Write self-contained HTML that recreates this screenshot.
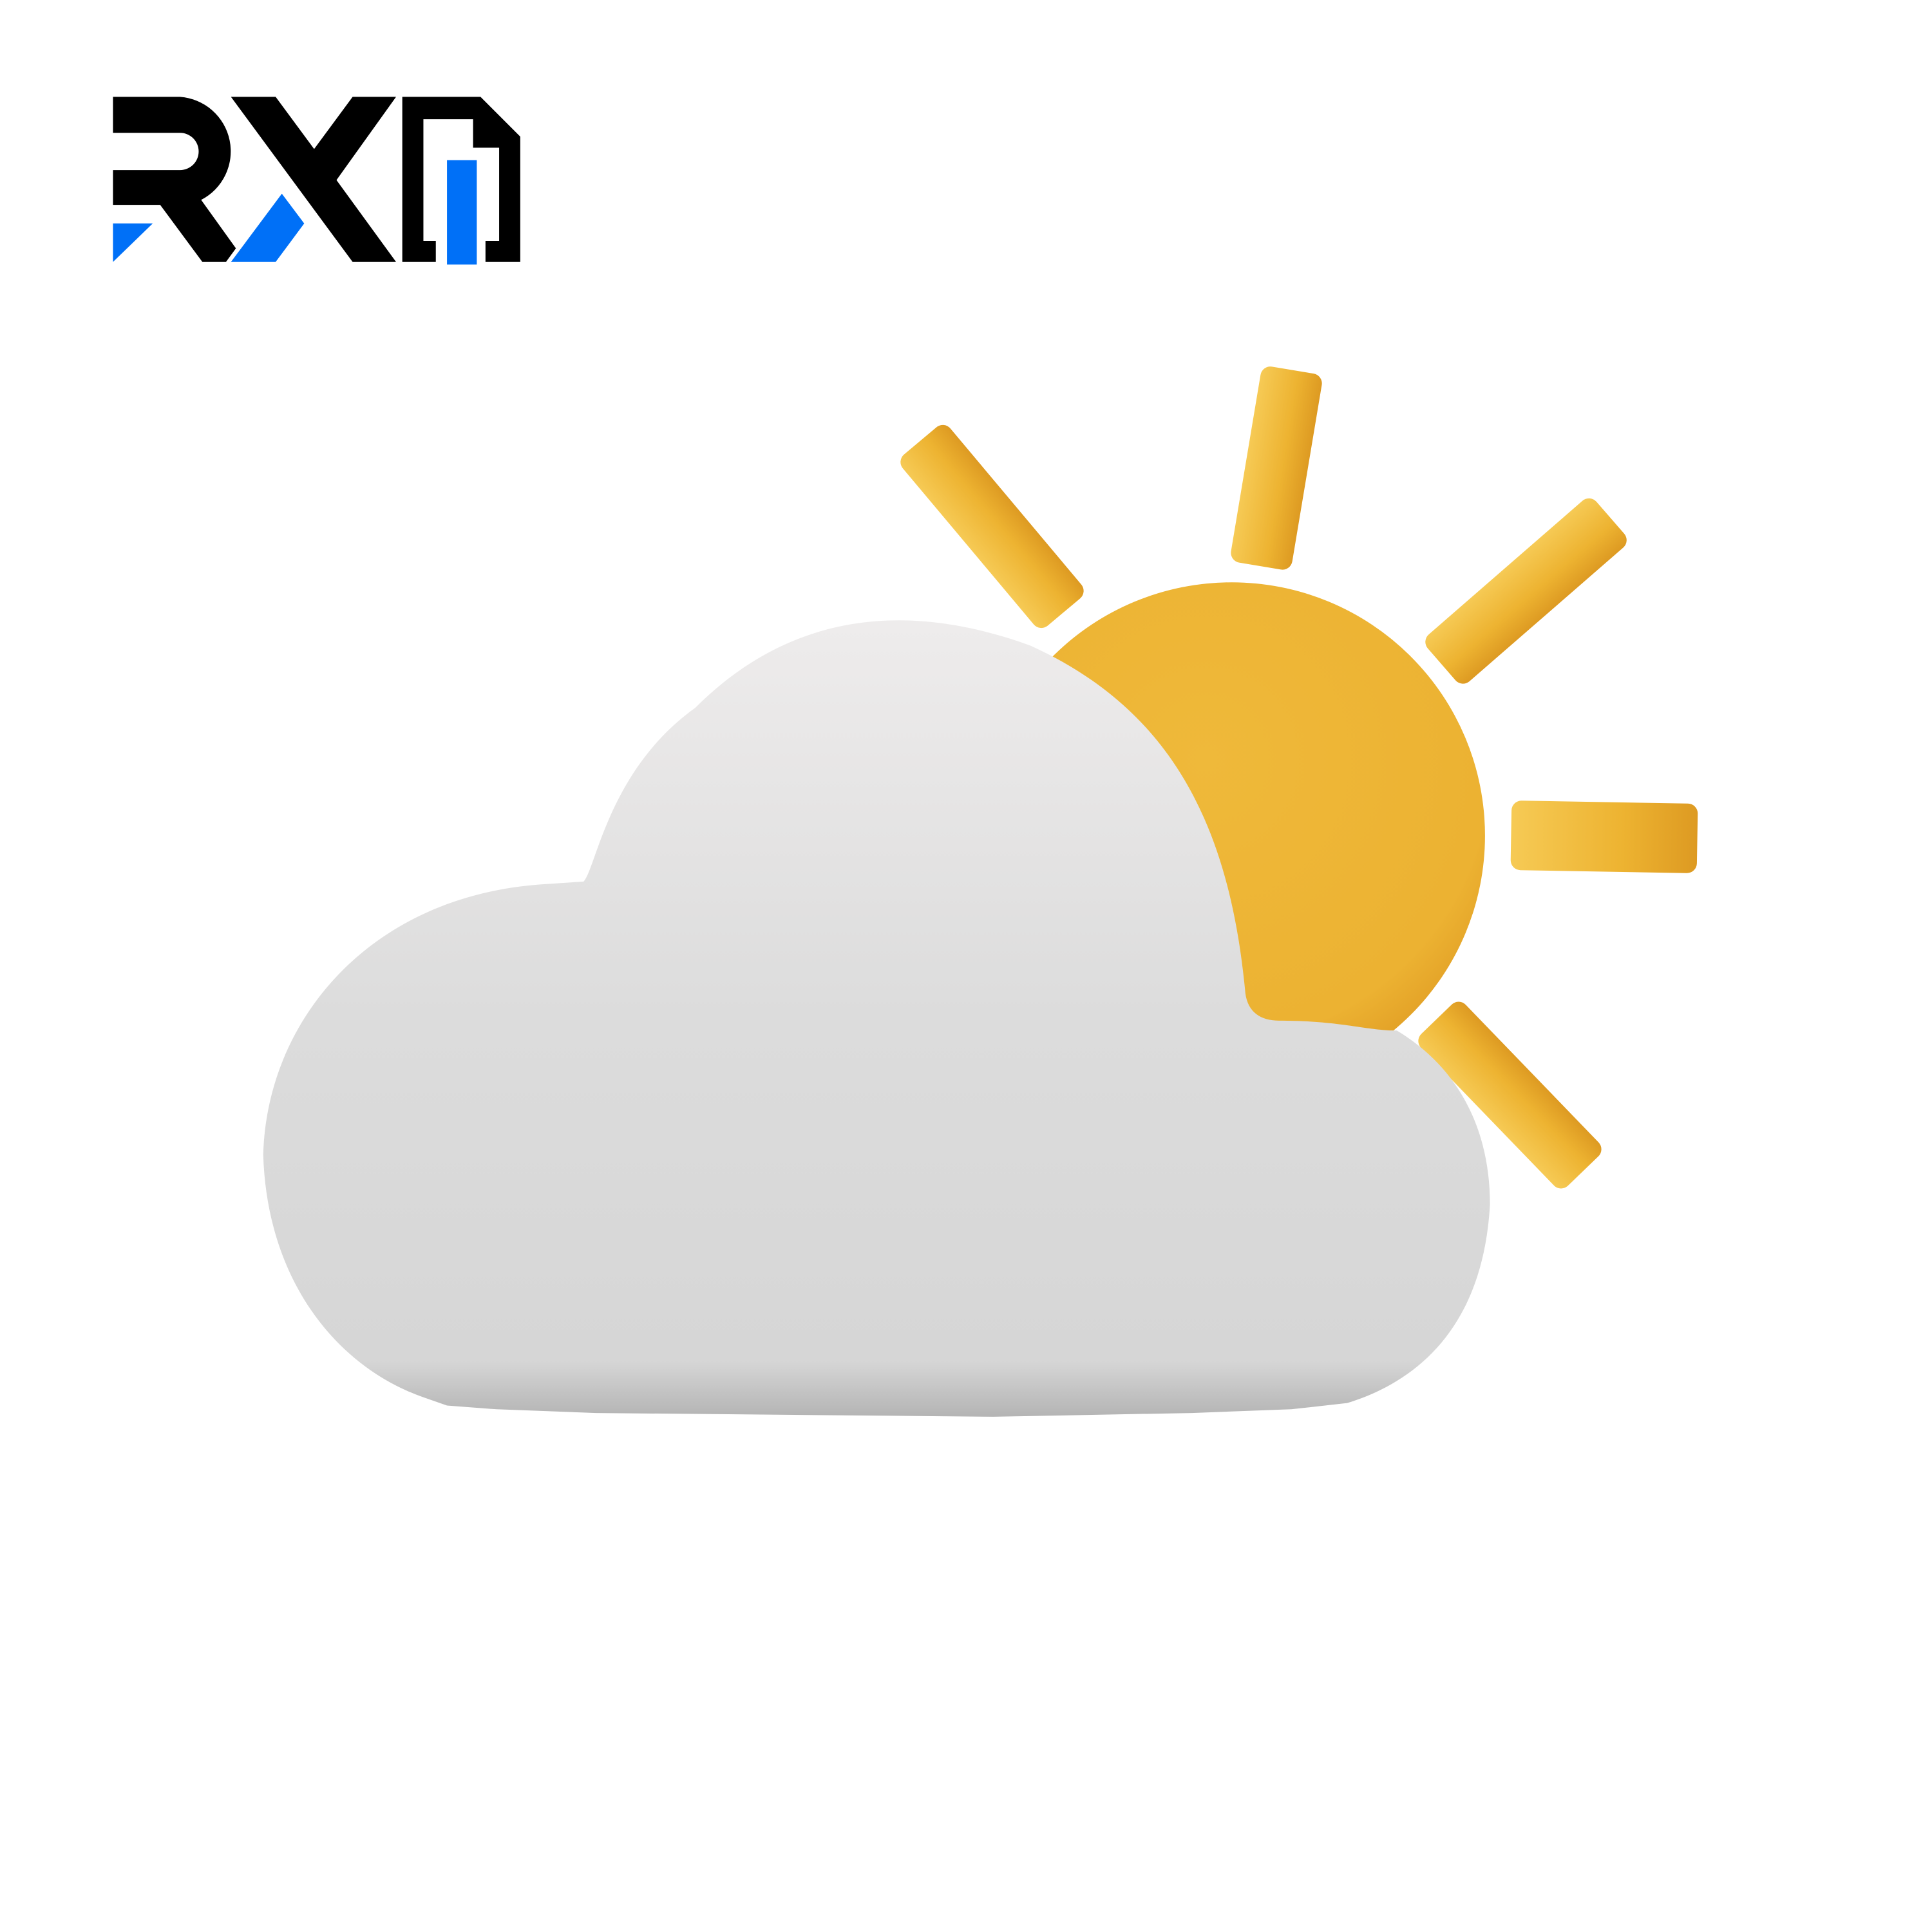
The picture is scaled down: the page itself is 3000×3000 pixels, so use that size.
<!DOCTYPE html>
<html><head><meta charset="utf-8"><style>html,body{margin:0;padding:0;background:#fff}svg{display:block}</style></head>
<body>
<svg width="3000" height="3000" viewBox="0 0 1556 1556" xmlns="http://www.w3.org/2000/svg">
<defs>
<radialGradient id="sun" cx="0.45" cy="0.35" r="0.7">
<stop offset="0" stop-color="#efb93a"/><stop offset="0.8" stop-color="#ecb232"/><stop offset="1" stop-color="#df9a22"/></radialGradient>
<linearGradient id="ray" x1="0" y1="0" x2="1" y2="0">
<stop offset="0" stop-color="#f6ca55"/><stop offset="0.6" stop-color="#edb331"/><stop offset="1" stop-color="#dd9a22"/></linearGradient>
<linearGradient id="cloud" x1="0" y1="0" x2="0" y2="1">
<stop offset="0" stop-color="#eeecec"/><stop offset="0.5" stop-color="#dcdcdc"/><stop offset="0.93" stop-color="#d6d6d6"/><stop offset="1" stop-color="#b4b4b4"/></linearGradient>
</defs>
<rect width="1556" height="1556" fill="#fff"/>
<g>
<path d="M91 78 H145 A44 44 0 0 1 162 161 L190 200 L182 211 H163 L129 165 H91 V137 H145 A15 15 0 0 0 145 107 H91 Z" fill="#000"/>
<path d="M91 180 H123 L91 211 Z" fill="#0070f7"/>
<path d="M186 78 H222 L253 120 L284 78 H319 L271 145 L319 211 H284 Z" fill="#000"/>
<path d="M227 156 L245 180 L222 211 H186 Z" fill="#0070f7"/>
<path d="M324 78 H387 L419 110 V211 H391 V194 H402 V119 H381 V96 H341 V194 H351 V211 H324 Z" fill="#000"/>
<rect x="360" y="129" width="24" height="84" fill="#0070f7"/>
</g>
<g fill="url(#ray)">
<rect x="-25" y="-80" width="50" height="160" rx="8" transform="translate(1028 377) rotate(9.5)"/>
<rect x="-25" y="-90" width="50" height="180" rx="8" transform="translate(799 424) rotate(-40)"/>
<rect x="-25" y="-90" width="50" height="180" rx="8" transform="translate(1229 476) rotate(49)"/>
<rect x="-75" y="-28" width="150" height="56" rx="8" transform="translate(1292 674) rotate(1)"/>
<rect x="-25" y="-85" width="50" height="170" rx="8" transform="translate(1216 882) rotate(-44)"/>
</g>
<circle cx="992" cy="673" r="204" fill="url(#sun)"/>
<path d="M340 1125 C270 1100 215 1030 212 930 C215 820 300 720 440 712 L470 710 C480 700 490 620 560 570 C630 500 720 480 830 520 C940 570 990 660 1003 800 C1005 815 1015 822 1030 822 C1080 822 1100 830 1125 830 C1175 860 1200 910 1200 970 C1195 1060 1150 1110 1085 1130 L1040 1135 L960 1138 L800 1141 L480 1138 L400 1135 L360 1132 Z" fill="url(#cloud)"/>
</svg>
</body></html>
